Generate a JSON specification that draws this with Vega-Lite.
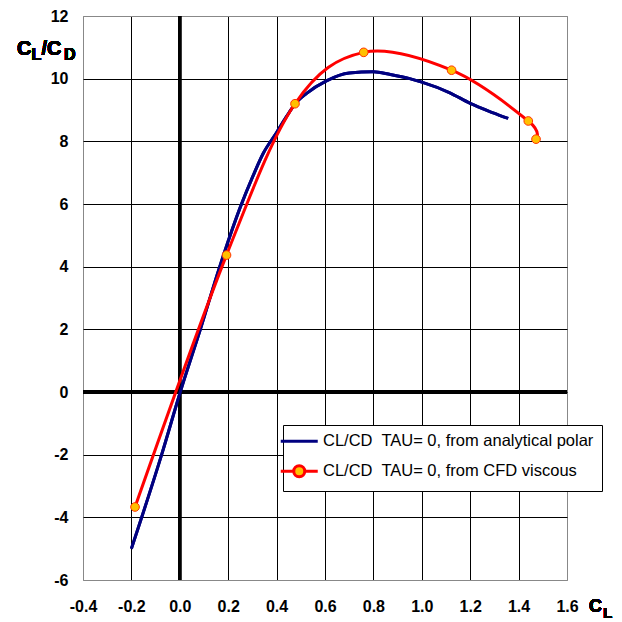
{
  "$schema": "https://vega.github.io/schema/vega-lite/v6.json",
  "width": 484,
  "height": 564,
  "autosize": {"type": "none"},
  "padding": {"left": 83, "top": 16, "right": 55, "bottom": 42},
  "background": "white",
  "config": {
    "view": {"stroke": "#888888", "strokeWidth": 1},
    "axis": {
      "labelFont": "Liberation Sans",
      "labelFontSize": 16,
      "labelFontWeight": "bold",
      "labelColor": "black",
      "labelFlush": false,
      "labelOverlap": false,
      "ticks": false,
      "domain": false,
      "gridWidth": 1,
      "gridOpacity": 1
    }
  },
  "data": {
    "values": [
      {"series": "CL/CD\u00a0 TAU= 0, from analytical polar", "cl": -0.2, "ld": -5.0},
      {"series": "CL/CD\u00a0 TAU= 0, from analytical polar", "cl": -0.075, "ld": -2.0},
      {"series": "CL/CD\u00a0 TAU= 0, from analytical polar", "cl": 0.002, "ld": 0.0},
      {"series": "CL/CD\u00a0 TAU= 0, from analytical polar", "cl": 0.085, "ld": 2.0},
      {"series": "CL/CD\u00a0 TAU= 0, from analytical polar", "cl": 0.165, "ld": 4.0},
      {"series": "CL/CD\u00a0 TAU= 0, from analytical polar", "cl": 0.25, "ld": 5.9},
      {"series": "CL/CD\u00a0 TAU= 0, from analytical polar", "cl": 0.30, "ld": 6.85},
      {"series": "CL/CD\u00a0 TAU= 0, from analytical polar", "cl": 0.345, "ld": 7.62},
      {"series": "CL/CD\u00a0 TAU= 0, from analytical polar", "cl": 0.40, "ld": 8.28},
      {"series": "CL/CD\u00a0 TAU= 0, from analytical polar", "cl": 0.44, "ld": 8.78},
      {"series": "CL/CD\u00a0 TAU= 0, from analytical polar", "cl": 0.475, "ld": 9.18},
      {"series": "CL/CD\u00a0 TAU= 0, from analytical polar", "cl": 0.524, "ld": 9.53},
      {"series": "CL/CD\u00a0 TAU= 0, from analytical polar", "cl": 0.606, "ld": 9.93},
      {"series": "CL/CD\u00a0 TAU= 0, from analytical polar", "cl": 0.7, "ld": 10.18},
      {"series": "CL/CD\u00a0 TAU= 0, from analytical polar", "cl": 0.8, "ld": 10.22},
      {"series": "CL/CD\u00a0 TAU= 0, from analytical polar", "cl": 0.87, "ld": 10.13},
      {"series": "CL/CD\u00a0 TAU= 0, from analytical polar", "cl": 0.95, "ld": 10.0},
      {"series": "CL/CD\u00a0 TAU= 0, from analytical polar", "cl": 1.0, "ld": 9.89},
      {"series": "CL/CD\u00a0 TAU= 0, from analytical polar", "cl": 1.116, "ld": 9.55},
      {"series": "CL/CD\u00a0 TAU= 0, from analytical polar", "cl": 1.2, "ld": 9.21},
      {"series": "CL/CD\u00a0 TAU= 0, from analytical polar", "cl": 1.295, "ld": 8.91},
      {"series": "CL/CD\u00a0 TAU= 0, from analytical polar", "cl": 1.357, "ld": 8.73},
      {"series": "CL/CD\u00a0 TAU= 0, from CFD viscous", "cl": -0.185, "ld": -3.67},
      {"series": "CL/CD\u00a0 TAU= 0, from CFD viscous", "cl": 0.193, "ld": 4.37},
      {"series": "CL/CD\u00a0 TAU= 0, from CFD viscous", "cl": 0.476, "ld": 9.2},
      {"series": "CL/CD\u00a0 TAU= 0, from CFD viscous", "cl": 0.76, "ld": 10.84},
      {"series": "CL/CD\u00a0 TAU= 0, from CFD viscous", "cl": 1.123, "ld": 10.27},
      {"series": "CL/CD\u00a0 TAU= 0, from CFD viscous", "cl": 1.44, "ld": 8.65},
      {"series": "CL/CD\u00a0 TAU= 0, from CFD viscous", "cl": 1.472, "ld": 8.07}
    ]
  },
  "layer": [
    {
      "transform": [{"filter": "!test(/CFD/, datum.series)"}],
      "mark": {"type": "line", "interpolate": "monotone", "strokeWidth": 3},
      "encoding": {
        "x": {
          "field": "cl", "type": "quantitative",
          "scale": {"domain": [-0.4, 1.6], "nice": false, "zero": false},
          "axis": {
            "title": null,
            "values": [-0.4, -0.2, 0, 0.2, 0.4, 0.6, 0.8, 1.0, 1.2, 1.4, 1.6],
            "labelExpr": "(datum.value < -0.001 ? '-' : '') + format(abs(datum.value), '.1f')",
            "labelPadding": 18,
            "gridColor": {"condition": {"test": "datum.value < -0.39 || datum.value > 1.59", "value": "#888888"}, "value": "black"}
          }
        },
        "y": {
          "field": "ld", "type": "quantitative",
          "scale": {"domain": [-6, 12], "nice": false, "zero": false},
          "axis": {
            "title": null,
            "values": [-6, -4, -2, 0, 2, 4, 6, 8, 10, 12],
            "labelExpr": "(datum.value < 0 ? '-' : '') + format(abs(datum.value), 'd')",
            "labelPadding": 15,
            "gridColor": {"condition": {"test": "datum.value < -5.9 || datum.value > 11.9", "value": "#888888"}, "value": "black"}
          }
        },
        "color": {
          "field": "series", "type": "nominal",
          "scale": {
            "domain": ["CL/CD\u00a0 TAU= 0, from analytical polar", "CL/CD\u00a0 TAU= 0, from CFD viscous"],
            "range": ["#000080", "#FF0000"]
          },
          "legend": {
            "title": null,
            "orient": "none",
            "legendX": 200,
            "legendY": 409,
            "fillColor": "white",
            "strokeColor": "black",
            "padding": 8,
            "symbolType": "stroke",
            "symbolSize": 100,
            "symbolStrokeWidth": 3,
            "labelFont": "Liberation Sans",
            "labelFontSize": 16.5,
            "labelColor": "black",
            "labelOffset": 15.5,
            "rowPadding": 9,
            "labelLimit": 400,
            "encode": {
              "symbols": {
                "update": {
                  "shape": {"signal": "test(/CFD/, datum.value) ? 'M-3.7,0L-1.1,0M1.1,0A1.1,1.1,0,1,1,-1.1,0A1.1,1.1,0,1,1,1.1,0M1.1,0L3.7,0' : 'M-3.7,0L3.7,0'"},
                  "fill": {"signal": "test(/CFD/, datum.value) ? '#FFC000' : 'transparent'"}
                }
              }
            }
          }
        }
      }
    },
    {
      "mark": {"type": "rule", "color": "black", "strokeWidth": 2.5},
      "encoding": {"x": {"datum": 0, "type": "quantitative"}}
    },
    {
      "mark": {"type": "rule", "color": "black", "strokeWidth": 2.5},
      "encoding": {"y": {"datum": 0, "type": "quantitative"}}
    },
    {
      "transform": [{"filter": "!test(/CFD/, datum.series)"}],
      "mark": {"type": "line", "interpolate": "monotone", "strokeWidth": 3},
      "encoding": {
        "x": {"field": "cl", "type": "quantitative"},
        "y": {"field": "ld", "type": "quantitative"},
        "color": {"field": "series", "type": "nominal"}
      }
    },
    {
      "transform": [{"filter": "test(/CFD/, datum.series)"}],
      "mark": {"type": "line", "interpolate": "cardinal", "strokeWidth": 3},
      "encoding": {
        "x": {"field": "cl", "type": "quantitative"},
        "y": {"field": "ld", "type": "quantitative"},
        "color": {"field": "series", "type": "nominal"}
      }
    },
    {
      "transform": [{"filter": "test(/CFD/, datum.series)"}],
      "mark": {"type": "point", "filled": true, "fill": "#FFC000", "stroke": "#FF3300", "strokeWidth": 1, "size": 75, "opacity": 1},
      "encoding": {
        "x": {"field": "cl", "type": "quantitative"},
        "y": {"field": "ld", "type": "quantitative"}
      }
    },
    {
      "mark": {"type": "text", "text": "C", "font": "Liberation Sans", "fontWeight": "bold", "fontSize": 20, "align": "left", "baseline": "alphabetic", "dx": -66, "dy": 39, "color": "black"},
      "encoding": {"x": {"datum": -0.4, "type": "quantitative"}, "y": {"datum": 12, "type": "quantitative"}}
    },
    {
      "mark": {"type": "text", "text": "L", "font": "Liberation Sans", "fontWeight": "bold", "fontSize": 16, "align": "left", "baseline": "alphabetic", "dx": -51.5, "dy": 44, "color": "black"},
      "encoding": {"x": {"datum": -0.4, "type": "quantitative"}, "y": {"datum": 12, "type": "quantitative"}}
    },
    {
      "mark": {"type": "text", "text": "/C", "font": "Liberation Sans", "fontWeight": "bold", "fontSize": 20, "align": "left", "baseline": "alphabetic", "dx": -41.5, "dy": 39, "color": "black"},
      "encoding": {"x": {"datum": -0.4, "type": "quantitative"}, "y": {"datum": 12, "type": "quantitative"}}
    },
    {
      "mark": {"type": "text", "text": "D", "font": "Liberation Sans", "fontWeight": "bold", "fontSize": 16, "align": "left", "baseline": "alphabetic", "dx": -19, "dy": 44, "color": "black"},
      "encoding": {"x": {"datum": -0.4, "type": "quantitative"}, "y": {"datum": 12, "type": "quantitative"}}
    },
    {
      "mark": {"type": "text", "text": "C", "font": "Liberation Sans", "fontWeight": "bold", "fontSize": 18, "align": "left", "baseline": "alphabetic", "dx": 22, "dy": 32, "color": "black"},
      "encoding": {"x": {"datum": 1.6, "type": "quantitative"}, "y": {"datum": -6, "type": "quantitative"}}
    },
    {
      "mark": {"type": "text", "text": "L", "font": "Liberation Sans", "fontWeight": "bold", "fontSize": 15, "align": "left", "baseline": "alphabetic", "dx": 36, "dy": 38, "color": "black"},
      "encoding": {"x": {"datum": 1.6, "type": "quantitative"}, "y": {"datum": -6, "type": "quantitative"}}
    }
  ]
}
